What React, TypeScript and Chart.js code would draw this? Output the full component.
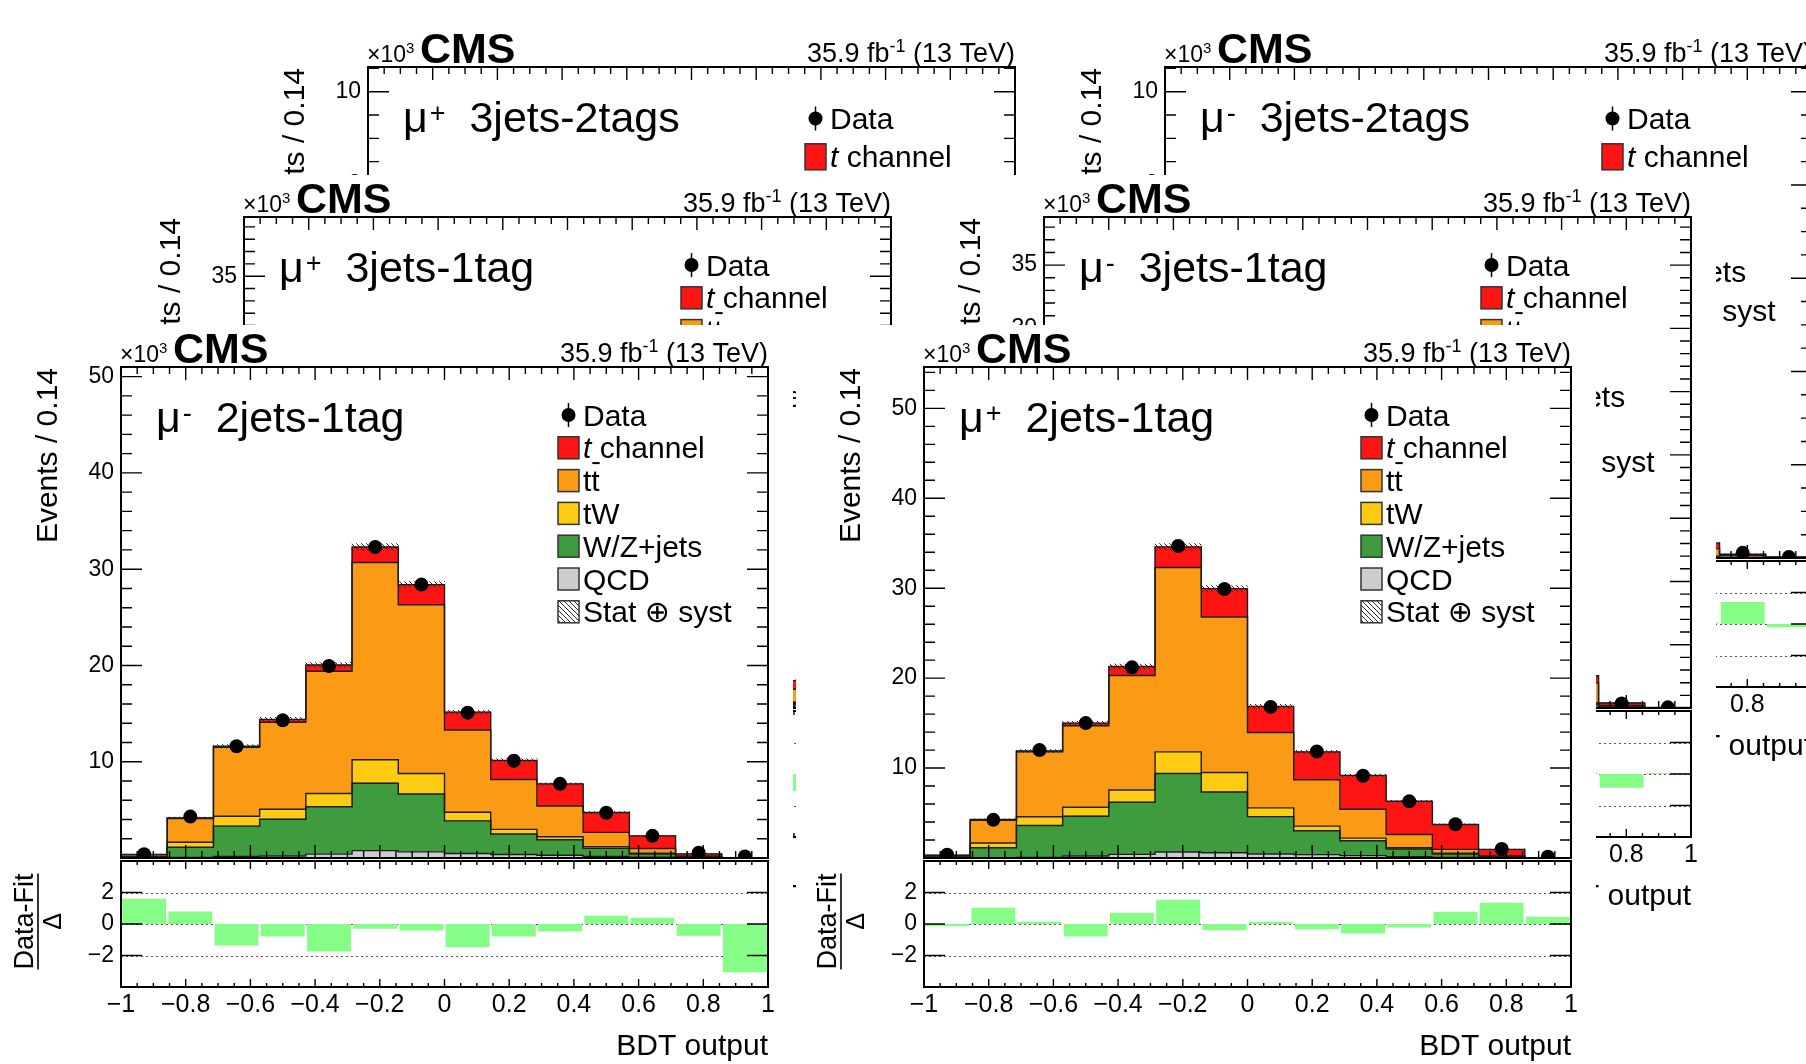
import React, { useEffect, useRef } from 'react';
import { Chart, registerables } from 'chart.js';

Chart.register(...registerables);

const FONT = "'Liberation Sans', Arial, Helvetica, 'DejaVu Sans', sans-serif";

// ---------------- binning, axis tick labels ----------------
const binEdges = [-1, -0.857143, -0.714286, -0.571429, -0.428571, -0.285714, -0.142857, 0, 0.142857, 0.285714, 0.428571, 0.571429, 0.714286, 0.857143, 1];
const binCenters = [-0.928571, -0.785714, -0.642857, -0.5, -0.357143, -0.214286, -0.071429, 0.071429, 0.214286, 0.357143, 0.5, 0.642857, 0.785714, 0.928571];
const xTickValues = [-1, -0.8, -0.6, -0.4, -0.2, 0, 0.2, 0.4, 0.6, 0.8, 1];
const xTickLabels = ['\u22121', '\u22120.8', '\u22120.6', '\u22120.4', '\u22120.2', '0', '0.2', '0.4', '0.6', '0.8', '1'];
const ratioTickValues = [-2, 0, 2];
const ratioTickLabels = ['\u22122', '0', '2'];
const ratioGridValues = [-2, 0, 2];
const yTicks2j = [10, 20, 30, 40, 50];
const yTicks3j1t = [5, 10, 15, 20, 25, 30, 35];
const yTicks3j2t = [2, 4, 6, 8, 10];

const legendKeysFull = ['data', 'tch', 'tt', 'tw', 'wz', 'qcd', 'unc'];
const legendKeysNoQcd = ['data', 'tch', 'tt', 'tw', 'wz', 'unc'];

const COLORS: any = {
  tch: '#ff1414',
  tt: '#fb9b15',
  tw: '#fdcb12',
  wz: '#3e9b3e',
  qcd: '#cdcdcd',
  pull: '#86fd86',
  outline: '#1c1c1c',
};

// ---------------- mu- 2jets-1tag (front left) ----------------
const mm2j1tQcd = [0.02, 0.05, 0.15, 0.2, 0.4, 0.77, 0.64, 0.46, 0.36, 0.29, 0.15, 0.08, 0.02, 0.005];
const mm2j1tWz = [0.1, 1.06, 3.16, 3.83, 4.93, 7.0, 6.0, 3.4, 2.13, 1.61, 0.86, 0.32, 0.08, 0.01];
const mm2j1tTw = [0.05, 0.52, 1.03, 1.03, 1.37, 2.43, 2.13, 0.89, 0.48, 0.31, 0.17, 0.1, 0.03, 0.005];
const mm2j1tTt = [0.18, 2.47, 7.16, 9.04, 12.7, 20.5, 17.53, 8.55, 5.18, 3.19, 1.48, 0.48, 0.09, 0.01];
const mm2j1tTch = [0.02, 0.07, 0.1, 0.3, 0.65, 1.6, 2.1, 1.85, 1.99, 2.3, 2.06, 1.32, 0.21, 0.01];
const mm2j1tData = [0.4, 4.3, 11.6, 14.3, 19.95, 32.3, 28.4, 15.1, 10.1, 7.7, 4.7, 2.3, 0.55, 0.15];
const mm2j1tUnc = [0.03, 0.08, 0.17, 0.2, 0.25, 0.35, 0.3, 0.2, 0.15, 0.12, 0.1, 0.06, 0.03, 0.01];
const mm2j1tPull = [1.6, 0.8, -1.37, -0.8, -1.75, -0.3, -0.42, -1.47, -0.8, -0.48, 0.53, 0.4, -0.74, -3.07];

// ---------------- mu+ 2jets-1tag (front right) ----------------
const mp2j1tQcd = [0.01, 0.04, 0.07, 0.22, 0.4, 0.66, 0.59, 0.44, 0.37, 0.26, 0.15, 0.07, 0.02, 0.005];
const mp2j1tWz = [0.08, 1.1, 3.55, 4.43, 5.8, 8.74, 6.75, 4.16, 2.66, 1.66, 0.85, 0.37, 0.13, 0.01];
const mp2j1tTw = [0.03, 0.52, 0.96, 1.0, 1.36, 2.4, 2.16, 0.97, 0.51, 0.29, 0.14, 0.08, 0.02, 0.005];
const mp2j1tTt = [0.15, 2.54, 7.22, 9.05, 12.74, 20.5, 17.3, 8.38, 5.16, 3.21, 1.48, 0.44, 0.05, 0.01];
const mp2j1tTch = [0.03, 0.08, 0.1, 0.3, 1.0, 2.3, 3.16, 2.91, 3.1, 3.77, 3.69, 2.77, 0.74, 0.01];
const mp2j1tData = [0.37, 4.24, 12.0, 15.0, 21.2, 34.7, 29.9, 16.8, 11.85, 9.15, 6.3, 3.76, 1.0, 0.15];
const mp2j1tUnc = [0.03, 0.08, 0.17, 0.2, 0.27, 0.37, 0.32, 0.22, 0.17, 0.14, 0.11, 0.08, 0.04, 0.01];
const mp2j1tPull = [-0.15, 1.03, 0.15, -0.8, 0.72, 1.54, -0.4, 0.15, -0.34, -0.61, -0.23, 0.78, 1.35, 0.46];

// ---------------- mu+ 3jets-1tag (middle left, mostly hidden) ----------------
const mp3j1tQcd = [0.0, 0.02, 0.05, 0.1, 0.15, 0.2, 0.18, 0.12, 0.1, 0.06, 0.03, 0.02, 0.01, 0.0];
const mp3j1tWz = [0.05, 0.6, 1.6, 2.0, 2.5, 3.0, 2.4, 1.6, 1.0, 0.7, 0.4, 0.3, 0.05, 0.01];
const mp3j1tTw = [0.02, 0.4, 1.0, 1.3, 1.6, 1.8, 1.5, 1.0, 0.6, 0.35, 0.2, 0.1, 0.02, 0.005];
const mp3j1tTt = [0.2, 4.5, 12.0, 16.0, 20.0, 22.0, 18.0, 12.0, 8.0, 5.0, 2.8, 1.1, 0.3, 0.02];
const mp3j1tTch = [0.02, 0.1, 0.2, 0.4, 0.8, 1.5, 2.2, 2.3, 2.2, 2.0, 1.6, 0.7, 0.3, 0.02];
const mp3j1tData = [0.3, 5.7, 14.9, 19.7, 25.1, 28.4, 24.4, 17.1, 11.9, 8.1, 5.0, 2.1, 0.7, 0.05];
const mp3j1tUnc = [0.02, 0.1, 0.2, 0.25, 0.3, 0.35, 0.3, 0.22, 0.17, 0.13, 0.1, 0.06, 0.03, 0.01];
const mp3j1tPull = [0.5, 0.3, 0.1, -0.2, 0.1, -0.3, 0.2, 0.4, -0.1, 0.2, -0.1, -1.1, 0.3, 0.2];

// ---------------- mu- 3jets-1tag (middle right) ----------------
const mm3j1tQcd = [0.0, 0.02, 0.05, 0.1, 0.15, 0.2, 0.18, 0.12, 0.1, 0.06, 0.03, 0.02, 0.01, 0.0];
const mm3j1tWz = [0.05, 0.55, 1.5, 1.9, 2.3, 2.8, 2.2, 1.5, 0.9, 0.6, 0.4, 0.3, 0.05, 0.005];
const mm3j1tTw = [0.02, 0.4, 1.0, 1.3, 1.6, 1.8, 1.5, 1.0, 0.6, 0.35, 0.2, 0.08, 0.02, 0.0];
const mm3j1tTt = [0.2, 4.4, 11.8, 15.8, 19.8, 21.8, 17.8, 11.8, 7.8, 4.9, 2.9, 1.6, 0.12, 0.01];
const mm3j1tTch = [0.02, 0.08, 0.15, 0.3, 0.6, 1.1, 1.6, 1.6, 1.5, 1.3, 1.0, 0.55, 0.2, 0.02];
const mm3j1tData = [0.3, 5.5, 14.4, 19.3, 24.5, 27.8, 23.2, 16.1, 10.9, 7.2, 4.5, 2.6, 0.36, 0.05];
const mm3j1tUnc = [0.02, 0.1, 0.2, 0.25, 0.3, 0.35, 0.3, 0.22, 0.17, 0.13, 0.1, 0.06, 0.03, 0.01];
const mm3j1tPull = [0.4, 0.1, -0.2, -0.1, 0.3, 0.1, -0.2, 0.2, 0.1, 0.0, -0.1, 0.1, -0.87, 0.05];

// ---------------- mu+ 3jets-2tags (back left) ----------------
const mp3j2tQcd = [0, 0, 0.01, 0.01, 0.02, 0.02, 0.02, 0.01, 0.01, 0, 0, 0, 0, 0];
const mp3j2tWz = [0.01, 0.06, 0.15, 0.18, 0.22, 0.25, 0.2, 0.14, 0.09, 0.06, 0.03, 0.02, 0.005, 0];
const mp3j2tTw = [0.01, 0.12, 0.3, 0.38, 0.42, 0.45, 0.38, 0.25, 0.15, 0.09, 0.05, 0.02, 0.01, 0];
const mp3j2tTt = [0.1, 1.6, 3.9, 5.0, 5.9, 6.3, 5.2, 3.5, 2.3, 1.4, 0.75, 0.35, 0.07, 0.01];
const mp3j2tTch = [0.01, 0.05, 0.1, 0.2, 0.35, 0.55, 0.75, 0.8, 0.75, 0.65, 0.5, 0.3, 0.08, 0.01];
const mp3j2tData = [0.13, 1.8, 4.5, 5.8, 6.9, 7.5, 6.6, 4.7, 3.3, 2.2, 1.3, 0.7, 0.17, 0.02];
const mp3j2tUnc = [0.01, 0.04, 0.08, 0.1, 0.11, 0.12, 0.11, 0.08, 0.06, 0.05, 0.04, 0.03, 0.01, 0.005];
const mp3j2tPull = [0.3, -0.4, 0.2, 0.1, 0.0, -0.2, 0.3, 0.1, 0.0, 0.1, -0.1, 0.2, 0.3, -0.1];

// ---------------- mu- 3jets-2tags (back right) ----------------
const mm3j2tQcd = [0, 0, 0.01, 0.01, 0.02, 0.02, 0.02, 0.01, 0.01, 0, 0, 0, 0, 0];
const mm3j2tWz = [0.01, 0.05, 0.13, 0.16, 0.2, 0.22, 0.18, 0.12, 0.08, 0.05, 0.03, 0.02, 0.005, 0.005];
const mm3j2tTw = [0.01, 0.11, 0.28, 0.36, 0.4, 0.43, 0.36, 0.23, 0.14, 0.08, 0.04, 0.02, 0.005, 0];
const mm3j2tTt = [0.1, 1.5, 3.7, 4.8, 5.7, 6.1, 5.0, 3.3, 2.1, 1.2, 0.6, 0.16, 0.04, 0.01];
const mm3j2tTch = [0.01, 0.04, 0.08, 0.15, 0.25, 0.4, 0.5, 0.5, 0.45, 0.38, 0.28, 0.12, 0.03, 0.005];
const mm3j2tData = [0.12, 1.7, 4.2, 5.5, 6.6, 7.1, 6.1, 4.2, 2.8, 1.7, 0.95, 0.33, 0.11, 0.02];
const mm3j2tUnc = [0.01, 0.04, 0.08, 0.1, 0.11, 0.12, 0.11, 0.08, 0.06, 0.05, 0.04, 0.02, 0.01, 0.005];
const mm3j2tPull = [0.2, 0.0, 0.1, 0.1, 0.0, -0.1, 0.0, 0.1, 0.0, 0.0, 0.0, 0.1, 1.4, -0.2];

// ---------------- panel geometry ----------------
const PANEL_W = 800;
const PANEL_H = 739;
const MAIN_H = 540;
const RATIO_TOP = 530;
const RATIO_H = 209;

const panelSpecs: any[] = [
  {
    key: 'mp3j2t', left: 240, top: 25, sign: '+', region: '3jets-2tags', yMax: 10.53, yMajor: yTicks3j2t, yMinorStep: 0.5,
    qcd: mp3j2tQcd, wz: mp3j2tWz, tw: mp3j2tTw, tt: mp3j2tTt, tch: mp3j2tTch, data: mp3j2tData, unc: mp3j2tUnc, pull: mp3j2tPull,
    legend: legendKeysNoQcd, legendFirst: 51.5, legendGap: 38.3,
  },
  {
    key: 'mm3j2t', left: 1037, top: 25, sign: '-', region: '3jets-2tags', yMax: 10.53, yMajor: yTicks3j2t, yMinorStep: 0.5,
    qcd: mm3j2tQcd, wz: mm3j2tWz, tw: mm3j2tTw, tt: mm3j2tTt, tch: mm3j2tTch, data: mm3j2tData, unc: mm3j2tUnc, pull: mm3j2tPull,
    legend: legendKeysNoQcd, legendFirst: 51.5, legendGap: 38.3,
  },
  {
    key: 'mp3j1t', left: 116, top: 175, sign: '+', region: '3jets-1tag', yMax: 39.8, yMajor: yTicks3j1t, yMinorStep: 1,
    qcd: mp3j1tQcd, wz: mp3j1tWz, tw: mp3j1tTw, tt: mp3j1tTt, tch: mp3j1tTch, data: mp3j1tData, unc: mp3j1tUnc, pull: mp3j1tPull,
    legend: legendKeysFull, legendFirst: 48, legendGap: 32.8,
  },
  {
    key: 'mm3j1t', left: 916, top: 175, sign: '-', region: '3jets-1tag', yMax: 38.8, yMajor: yTicks3j1t, yMinorStep: 1,
    qcd: mm3j1tQcd, wz: mm3j1tWz, tw: mm3j1tTw, tt: mm3j1tTt, tch: mm3j1tTch, data: mm3j1tData, unc: mm3j1tUnc, pull: mm3j1tPull,
    legend: legendKeysFull, legendFirst: 48, legendGap: 32.8,
  },
  {
    key: 'mm2j1t', left: -7, top: 325, sign: '-', region: '2jets-1tag', yMax: 51, yMajor: yTicks2j, yMinorStep: 2,
    qcd: mm2j1tQcd, wz: mm2j1tWz, tw: mm2j1tTw, tt: mm2j1tTt, tch: mm2j1tTch, data: mm2j1tData, unc: mm2j1tUnc, pull: mm2j1tPull,
    legend: legendKeysFull, legendFirst: 48, legendGap: 32.8,
  },
  {
    key: 'mp2j1t', left: 796, top: 325, sign: '+', region: '2jets-1tag', yMax: 54.6, yMajor: yTicks2j, yMinorStep: 2,
    qcd: mp2j1tQcd, wz: mp2j1tWz, tw: mp2j1tTw, tt: mp2j1tTt, tch: mp2j1tTch, data: mp2j1tData, unc: mp2j1tUnc, pull: mp2j1tPull,
    legend: legendKeysFull, legendFirst: 48, legendGap: 32.8,
  },
];

// ---------------- drawing helpers ----------------
function f(size: number, style = '') {
  return `${style} ${size}px ${FONT}`.trim();
}

function drawSegs(ctx: CanvasRenderingContext2D, segs: any[], x: number, y: number) {
  let cx = x;
  ctx.textAlign = 'left';
  ctx.textBaseline = 'alphabetic';
  for (const s of segs) {
    ctx.font = s.font;
    ctx.fillText(s.t, cx, y - (s.dy || 0));
    const w = ctx.measureText(s.t).width;
    if (s.over) {
      ctx.save();
      ctx.strokeStyle = '#000';
      ctx.lineWidth = 2;
      ctx.beginPath();
      ctx.moveTo(cx + 1, y - s.over);
      ctx.lineTo(cx + w, y - s.over);
      ctx.stroke();
      ctx.restore();
    }
    cx += w + (s.gap || 0);
  }
  return cx;
}

function segsWidth(ctx: CanvasRenderingContext2D, segs: any[]) {
  let w = 0;
  for (const s of segs) {
    ctx.font = s.font;
    w += ctx.measureText(s.t).width + (s.gap || 0);
  }
  return w;
}

function legendSegs(key: string) {
  const F = f(30);
  if (key === 'data') return [{ t: 'Data', font: F }];
  if (key === 'tch') return [{ t: 't', font: f(30, 'italic') }, { t: ' channel', font: F }];
  if (key === 'tt') return [{ t: 't', font: F }, { t: 't', font: F, over: 28 }];
  if (key === 'tw') return [{ t: 'tW', font: F }];
  if (key === 'wz') return [{ t: 'W/Z+jets', font: F }];
  if (key === 'qcd') return [{ t: 'QCD', font: F }];
  return [{ t: 'Stat \u2295 syst', font: F }];
}

function makeHatch(canvas: HTMLCanvasElement) {
  const tile = document.createElement('canvas');
  tile.width = 5;
  tile.height = 5;
  const g = tile.getContext('2d')!;
  g.strokeStyle = '#262626';
  g.lineWidth = 1;
  g.beginPath();
  for (let k = -5; k <= 5; k += 5) {
    g.moveTo(k, 0);
    g.lineTo(k + 5, 5);
  }
  g.stroke();
  return canvas.getContext('2d')!.createPattern(tile, 'repeat');
}

function mainPlugin(spec: any, hatch: any) {
  return {
    id: 'mainDecor',
    afterDraw(chart: any) {
      const ctx: CanvasRenderingContext2D = chart.ctx;
      const a = chart.chartArea;
      const xs = chart.scales.x;
      const ys = chart.scales.y;
      ctx.save();
      ctx.strokeStyle = '#000';
      ctx.fillStyle = '#000';
      // ticks
      ctx.lineWidth = 1.4;
      ctx.beginPath();
      for (let i = 0; i <= 40; i++) {
        const px = xs.getPixelForValue(-1 + i * 0.05);
        const L = i % 4 === 0 ? 13 : 7;
        ctx.moveTo(px, a.top);
        ctx.lineTo(px, a.top + L);
        ctx.moveTo(px, a.bottom);
        ctx.lineTo(px, a.bottom - L);
      }
      const nMinor = Math.floor(spec.yMax / spec.yMinorStep + 1e-6);
      for (let k = 1; k <= nMinor; k++) {
        const v = k * spec.yMinorStep;
        const py = ys.getPixelForValue(v);
        const major = spec.yMajor.some((m: number) => Math.abs(m - v) < 1e-6);
        const L = major ? 21 : 11;
        ctx.moveTo(a.left, py);
        ctx.lineTo(a.left + L, py);
        ctx.moveTo(a.right, py);
        ctx.lineTo(a.right - L, py);
      }
      ctx.stroke();
      ctx.lineWidth = 2;
      ctx.strokeRect(a.left, a.top, a.right - a.left, a.bottom - a.top);

      // y tick labels
      ctx.font = f(23);
      ctx.textAlign = 'right';
      ctx.textBaseline = 'middle';
      spec.yMajor.forEach((v: number) => ctx.fillText(String(v), a.left - 7, ys.getPixelForValue(v)));

      // y title
      ctx.save();
      ctx.translate(a.left - 64, a.top + 1);
      ctx.rotate(-Math.PI / 2);
      ctx.font = f(30);
      ctx.textAlign = 'right';
      ctx.textBaseline = 'alphabetic';
      ctx.fillText('Events / 0.14', 0, 0);
      ctx.restore();

      // x10^3, CMS, lumi
      drawSegs(ctx, [{ t: '\u00d710', font: f(23) }, { t: '3', font: f(15), dy: 9 }], a.left - 1, a.top - 5);
      ctx.font = f(43, 'bold');
      ctx.textAlign = 'left';
      ctx.textBaseline = 'alphabetic';
      ctx.fillText('CMS', a.left + 52, a.top - 4);
      const lumi = [
        { t: '35.9 fb', font: f(27) },
        { t: '-1', font: f(18), dy: 10 },
        { t: ' (13 TeV)', font: f(27) },
      ];
      drawSegs(ctx, lumi, a.right - segsWidth(ctx, lumi), a.top - 5);

      // region title
      const title = [
        { t: '\u03bc', font: f(43), gap: 2 },
        { t: spec.sign, font: f(27), dy: 10 },
        { t: '  ' + spec.region, font: f(43) },
      ];
      drawSegs(ctx, title, a.left + 35, a.top + 65);

      // legend
      const bx = a.left + 437;
      const bw = 21;
      const bh = Math.round(spec.legendGap * 0.68);
      spec.legend.forEach((key: string, k: number) => {
        const cy = a.top + spec.legendFirst + k * spec.legendGap;
        if (key === 'data') {
          ctx.fillStyle = '#000';
          ctx.beginPath();
          ctx.arc(bx + bw / 2, cy, 7, 0, Math.PI * 2);
          ctx.fill();
          ctx.lineWidth = 1.5;
          ctx.beginPath();
          ctx.moveTo(bx + bw / 2, cy - 12);
          ctx.lineTo(bx + bw / 2, cy + 12);
          ctx.stroke();
        } else {
          const y0 = cy - bh / 2;
          ctx.fillStyle = key === 'unc' ? '#fff' : COLORS[key];
          ctx.fillRect(bx, y0, bw, bh);
          if (key === 'unc') {
            ctx.fillStyle = hatch;
            ctx.fillRect(bx, y0, bw, bh);
          }
          ctx.strokeStyle = '#333';
          ctx.lineWidth = 1.5;
          ctx.strokeRect(bx, y0, bw, bh);
          ctx.strokeStyle = '#000';
        }
        ctx.fillStyle = '#000';
        drawSegs(ctx, legendSegs(key), bx + bw + 4, cy + 10.5);
      });
      ctx.restore();
    },
  };
}

function ratioPlugin() {
  return {
    id: 'ratioDecor',
    beforeDatasetsDraw(chart: any) {
      const ctx: CanvasRenderingContext2D = chart.ctx;
      const a = chart.chartArea;
      const ys = chart.scales.y;
      ctx.save();
      ctx.strokeStyle = '#555';
      ctx.lineWidth = 1;
      ctx.setLineDash([2, 3]);
      ctx.beginPath();
      ratioGridValues.forEach((v) => {
        const py = Math.round(ys.getPixelForValue(v)) + 0.5;
        ctx.moveTo(a.left, py);
        ctx.lineTo(a.right, py);
      });
      ctx.stroke();
      ctx.restore();
    },
    afterDraw(chart: any) {
      const ctx: CanvasRenderingContext2D = chart.ctx;
      const a = chart.chartArea;
      const xs = chart.scales.x;
      const ys = chart.scales.y;
      ctx.save();
      ctx.strokeStyle = '#000';
      ctx.fillStyle = '#000';
      ctx.lineWidth = 1.4;
      ctx.beginPath();
      for (let i = 0; i <= 40; i++) {
        const px = xs.getPixelForValue(-1 + i * 0.05);
        const L = i % 4 === 0 ? 8 : 4;
        ctx.moveTo(px, a.top);
        ctx.lineTo(px, a.top + L);
        ctx.moveTo(px, a.bottom);
        ctx.lineTo(px, a.bottom - L);
      }
      ratioTickValues.forEach((v) => {
        const py = ys.getPixelForValue(v);
        ctx.moveTo(a.left, py);
        ctx.lineTo(a.left + 21, py);
        ctx.moveTo(a.right, py);
        ctx.lineTo(a.right - 21, py);
      });
      ctx.stroke();
      ctx.lineWidth = 2;
      ctx.strokeRect(a.left, a.top, a.right - a.left, a.bottom - a.top);

      ctx.font = f(23);
      ctx.textAlign = 'right';
      ctx.textBaseline = 'middle';
      ratioTickValues.forEach((v, i) => ctx.fillText(ratioTickLabels[i], a.left - 7, ys.getPixelForValue(v)));

      ctx.font = f(25);
      ctx.textAlign = 'center';
      ctx.textBaseline = 'middle';
      xTickValues.forEach((v, i) => ctx.fillText(xTickLabels[i], xs.getPixelForValue(v), a.bottom + 18));

      ctx.font = f(30);
      ctx.textAlign = 'right';
      ctx.textBaseline = 'alphabetic';
      ctx.fillText('BDT output', a.right, a.bottom + 68);

      // fraction title
      const cy = (a.top + a.bottom) / 2 - 2.5;
      ctx.save();
      ctx.translate(a.left - 88, cy);
      ctx.rotate(-Math.PI / 2);
      ctx.font = f(27);
      ctx.textAlign = 'center';
      ctx.textBaseline = 'alphabetic';
      ctx.fillText('Data-Fit', 0, 0);
      ctx.restore();
      ctx.lineWidth = 1.6;
      ctx.beginPath();
      ctx.moveTo(a.left - 83, cy - 48);
      ctx.lineTo(a.left - 83, cy + 48);
      ctx.stroke();
      ctx.save();
      ctx.translate(a.left - 60, cy);
      ctx.rotate(-Math.PI / 2);
      ctx.font = f(25);
      ctx.textAlign = 'center';
      ctx.textBaseline = 'alphabetic';
      ctx.fillText('\u0394', 0, 0);
      ctx.restore();
      ctx.restore();
    },
  };
}

function buildMainChart(canvas: HTMLCanvasElement, spec: any) {
  const hatch = makeHatch(canvas);
  const cQcd = spec.qcd.map((v: number) => v);
  const cWz = cQcd.map((v: number, i: number) => v + spec.wz[i]);
  const cTw = cWz.map((v: number, i: number) => v + spec.tw[i]);
  const cTt = cTw.map((v: number, i: number) => v + spec.tt[i]);
  const cAll = cTt.map((v: number, i: number) => v + spec.tch[i]);
  const bar = (cum: number[], color: string, order: number) => ({
    type: 'bar',
    data: binCenters.map((x, i) => ({ x, y: cum[i] })),
    backgroundColor: color,
    borderWidth: 0,
    barPercentage: 1,
    categoryPercentage: 1,
    grouped: false,
    order,
  });
  const step = (cum: number[]) => {
    const pts: any[] = [{ x: binEdges[0], y: 0 }];
    cum.forEach((v, i) => pts.push({ x: binEdges[i], y: v }));
    pts.push({ x: binEdges[binEdges.length - 1], y: cum[cum.length - 1] });
    pts.push({ x: binEdges[binEdges.length - 1], y: 0 });
    return {
      type: 'line',
      data: pts,
      borderColor: COLORS.outline,
      borderWidth: 1.4,
      pointRadius: 0,
      stepped: true,
      fill: false,
      tension: 0,
      order: 1,
    };
  };
  const datasets: any[] = [
    {
      type: 'scatter',
      data: binCenters.map((x, i) => ({ x, y: spec.data[i] })),
      pointRadius: 7,
      pointBackgroundColor: '#000',
      pointBorderColor: '#000',
      pointBorderWidth: 0,
      clip: 0,
      order: 0,
    },
    step(cAll),
    step(cTt),
    step(cTw),
    step(cWz),
    step(cQcd),
    {
      type: 'bar',
      data: binCenters.map((x, i) => ({ x, y: [cAll[i] - spec.unc[i], cAll[i] + spec.unc[i]] })),
      backgroundColor: hatch,
      borderWidth: 0,
      barPercentage: 1,
      categoryPercentage: 1,
      grouped: false,
      order: 2,
    },
    bar(cQcd, COLORS.qcd, 3),
    bar(cWz, COLORS.wz, 4),
    bar(cTw, COLORS.tw, 5),
    bar(cTt, COLORS.tt, 6),
    bar(cAll, COLORS.tch, 7),
  ];
  return new Chart(canvas, {
    type: 'bar',
    data: { datasets },
    options: {
      responsive: false,
      animation: false,
      events: [],
      devicePixelRatio: 1,
      layout: { padding: { left: 128, right: 25, top: 42, bottom: 4 } },
      plugins: { legend: { display: false }, tooltip: { enabled: false }, title: { display: false } },
      scales: {
        x: { type: 'linear', min: -1, max: 1, offset: false, display: false },
        y: { type: 'linear', min: 0, max: spec.yMax, display: false },
      },
    } as any,
    plugins: [mainPlugin(spec, hatch)],
  } as any);
}

function buildRatioChart(canvas: HTMLCanvasElement, spec: any) {
  return new Chart(canvas, {
    type: 'bar',
    data: {
      datasets: [
        {
          data: binCenters.map((x, i) => ({ x, y: spec.pull[i] })),
          backgroundColor: COLORS.pull,
          borderWidth: 0,
          barPercentage: 0.95,
          categoryPercentage: 1,
          grouped: false,
        },
      ],
    },
    options: {
      responsive: false,
      animation: false,
      events: [],
      devicePixelRatio: 1,
      layout: { padding: { left: 128, right: 25, top: 6, bottom: 77 } },
      plugins: { legend: { display: false }, tooltip: { enabled: false }, title: { display: false } },
      scales: {
        x: { type: 'linear', min: -1, max: 1, offset: false, display: false },
        y: { type: 'linear', min: -4, max: 4, display: false },
      },
    } as any,
    plugins: [ratioPlugin()],
  } as any);
}

function Panel({ spec }: { spec: any }) {
  const mainRef = useRef<HTMLCanvasElement | null>(null);
  const ratioRef = useRef<HTMLCanvasElement | null>(null);
  useEffect(() => {
    const main = buildMainChart(mainRef.current!, spec);
    const ratio = buildRatioChart(ratioRef.current!, spec);
    return () => {
      main.destroy();
      ratio.destroy();
    };
  }, [spec]);
  return (
    <div
      style={{
        position: 'absolute',
        left: spec.left,
        top: spec.top,
        width: PANEL_W,
        height: PANEL_H,
        background: '#fff',
        overflow: 'hidden',
      }}
    >
      <canvas
        ref={mainRef}
        width={PANEL_W}
        height={MAIN_H}
        style={{ position: 'absolute', left: 0, top: 0, width: PANEL_W + 'px', height: MAIN_H + 'px' }}
      />
      <canvas
        ref={ratioRef}
        width={PANEL_W}
        height={RATIO_H}
        style={{ position: 'absolute', left: 0, top: RATIO_TOP, width: PANEL_W + 'px', height: RATIO_H + 'px' }}
      />
    </div>
  );
}

export default function App() {
  return (
    <div
      style={{
        position: 'absolute',
        left: 0,
        top: 0,
        width: 1806,
        height: 1064,
        overflow: 'hidden',
        background: '#fff',
      }}
    >
      {panelSpecs.map((s) => (
        <Panel key={s.key} spec={s} />
      ))}
    </div>
  );
}
